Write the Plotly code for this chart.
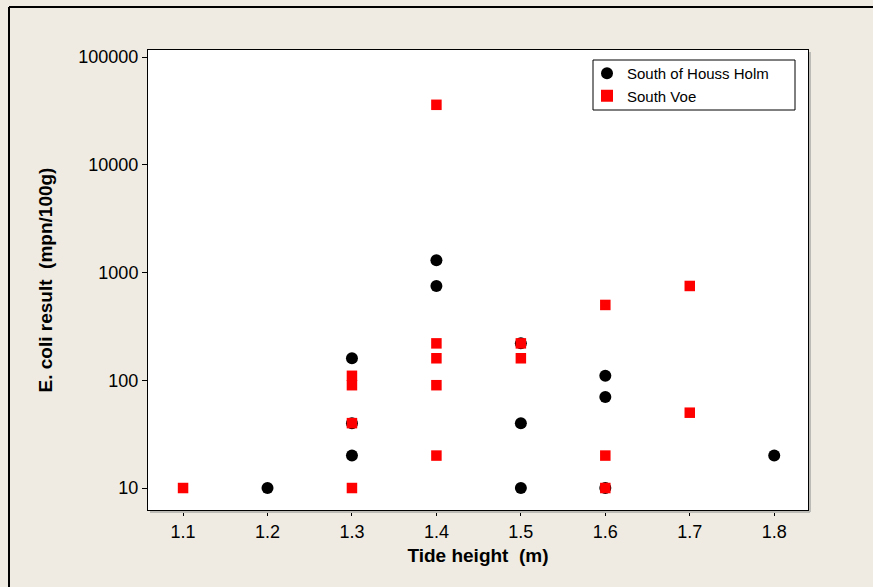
import plotly.graph_objects as go

# South of Houss Holm
houss_x = [1.2, 1.3, 1.3, 1.3, 1.4, 1.4, 1.5, 1.5, 1.5, 1.6, 1.6, 1.6, 1.8]
houss_y = [10, 160, 40, 20, 1300, 750, 220, 40, 10, 110, 70, 10, 20]

# South Voe
voe_x = [1.1, 1.3, 1.3, 1.3, 1.3, 1.4, 1.4, 1.4, 1.4, 1.4, 1.5, 1.5, 1.6, 1.6, 1.6, 1.7, 1.7]
voe_y = [10, 110, 90, 40, 10, 36000, 220, 160, 90, 20, 220, 160, 500, 20, 10, 750, 50]

x_ticks = [1.1, 1.2, 1.3, 1.4, 1.5, 1.6, 1.7, 1.8]
y_ticks = [10, 100, 1000, 10000, 100000]

FONT = "Liberation Sans"
W, H = 873, 587
L, R, T, B = 148, 65, 50, 77
PW, PH = W - L - R, H - T - B


def px(x):
    return (x - L) / PW


def py(y):
    return (H - B - y) / PH


fig = go.Figure()
fig.add_trace(go.Scatter(x=houss_x, y=houss_y, mode="markers", name="South of Houss Holm",
                         marker=dict(symbol="circle", size=12, color="black")))
fig.add_trace(go.Scatter(x=voe_x, y=voe_y, mode="markers", name="South Voe",
                         marker=dict(symbol="square", size=10.5, color="#ff0000")))

fig.update_layout(
    width=W, height=H,
    margin=dict(l=L, r=R, t=T, b=B),
    paper_bgcolor="#EFEBE2",
    plot_bgcolor="white",
    font=dict(family=FONT, size=18, color="black"),
    showlegend=True,
    legend=dict(x=px(587), y=py(57), xanchor="left", yanchor="top",
                bgcolor="rgba(0,0,0,0)", borderwidth=0,
                font=dict(family=FONT, size=15), itemsizing="constant",
                tracegroupgap=0),
    xaxis=dict(range=[1.0585, 1.840], tickvals=x_ticks, ticktext=[str(v) for v in x_ticks],
               showgrid=False, zeroline=False, showline=True, linecolor="black", linewidth=1,
               mirror=True, ticks="outside", ticklen=5, tickcolor="black",
               tickfont=dict(size=18),
               title=dict(text="<b>Tide height  (m)</b>", font=dict(size=19), standoff=8)),
    yaxis=dict(type="log", range=[0.796, 5.065], tickvals=y_ticks,
               ticktext=[str(v) for v in y_ticks],
               showgrid=False, zeroline=False, showline=True, linecolor="black", linewidth=1,
               mirror=True, ticks="outside", ticklen=5, tickcolor="black",
               tickfont=dict(size=18),
               title=dict(text="<b>E. coli result  (mpn/100g)</b>", font=dict(size=19), standoff=20)),
    shapes=[
        dict(type="line", xref="paper", yref="paper", x0=px(9), x1=1.2,
             y0=py(7), y1=py(7), line=dict(color="black", width=2)),
        dict(type="line", xref="paper", yref="paper", x0=px(9), x1=px(9),
             y0=py(7), y1=-0.3, line=dict(color="black", width=2)),
        dict(type="line", xref="paper", yref="paper", x0=px(810), x1=px(810),
             y0=py(52), y1=py(512), line=dict(color="#BDBBB5", width=2)),
        dict(type="line", xref="paper", yref="paper", x0=px(150), x1=px(810),
             y0=py(512), y1=py(512), line=dict(color="#BDBBB5", width=2)),
        dict(type="rect", xref="paper", yref="paper", x0=px(593), x1=px(795),
             y0=py(110), y1=py(60), fillcolor="white", line=dict(color="black", width=1),
             layer="below"),
    ],
)

fig.write_html("out.html")
